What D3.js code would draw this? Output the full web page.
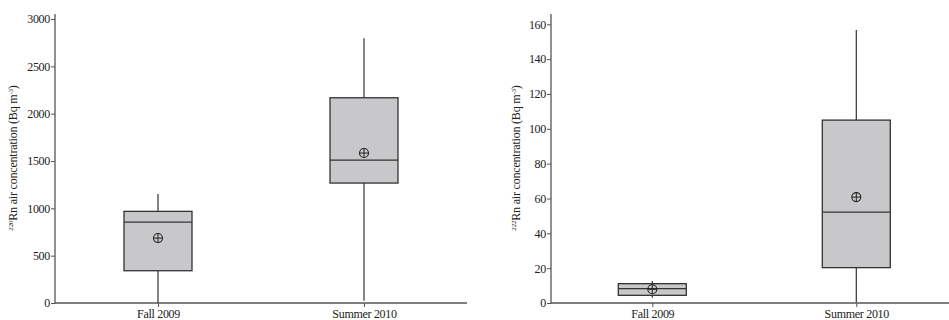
<!DOCTYPE html>
<html><head><meta charset="utf-8">
<script src="https://cdn.jsdelivr.net/npm/d3@7"></script>
<style>
body{margin:0;background:#fff;}
text{font-family:"Liberation Serif","Times New Roman",serif;fill:#222;}
</style></head>
<body><svg id="c" width="949" height="320"></svg>
<script>
const categories = ["Fall 2009", "Summer 2010"];
// Rn-220 (left panel)
const rn220Min    = [0, 25];
const rn220Q1     = [341, 1267];
const rn220Median = [855, 1510];
const rn220Q3     = [968, 2168];
const rn220Max    = [1151, 2797];
const rn220Mean   = [686, 1584];
const rn220Ticks  = [0, 500, 1000, 1500, 2000, 2500, 3000];
// Rn-222 (right panel)
const rn222Min    = [3, 0.5];
const rn222Q1     = [4.4, 20.3];
const rn222Median = [8.2, 52.2];
const rn222Q3     = [11.1, 105];
const rn222Max    = [12.6, 156.7];
const rn222Mean   = [7.9, 60.8];
const rn222Ticks  = [0, 20, 40, 60, 80, 100, 120, 140, 160];

const svg = d3.select("#c");

function panel(cfg){
  const g = svg.append("g");
  const y = d3.scaleLinear().domain(cfg.domain).range([303, cfg.topY]);
  const x = d3.scalePoint().domain(categories).range(cfg.centers);
  g.append("line").attr("x1",cfg.x0).attr("x2",cfg.x0).attr("y1",14).attr("y2",303.5)
    .attr("stroke","#555").attr("stroke-width",1.3);
  g.append("line").attr("x1",cfg.x0).attr("x2",cfg.x1).attr("y1",303).attr("y2",303)
    .attr("stroke","#555").attr("stroke-width",1.3);
  const ya = d3.axisLeft(y).tickValues(cfg.ticks).tickFormat(d3.format("d")).tickSize(4).tickPadding(1);
  const yg = g.append("g").attr("transform",`translate(${cfg.x0},0)`).call(ya);
  yg.select(".domain").remove();
  yg.selectAll(".tick line").attr("stroke","#555");
  yg.selectAll("text").attr("font-size",12).attr("letter-spacing","-0.3px").attr("fill","#222");
  const xa = d3.axisBottom(x).tickSize(4).tickPadding(2);
  const xg = g.append("g").attr("transform",`translate(0,303)`).call(xa);
  xg.select(".domain").remove();
  xg.selectAll(".tick line").attr("stroke","#555");
  xg.selectAll("text").attr("font-size",12).attr("letter-spacing","-0.3px").attr("fill","#222");
  const lab = g.append("text").attr("transform",`translate(${cfg.labX},${cfg.labY}) rotate(-90)`)
    .attr("text-anchor","middle").attr("font-size",12).attr("letter-spacing","-0.2px");
  lab.append("tspan").attr("font-size",7).attr("dy",-4).text(cfg.iso);
  lab.append("tspan").attr("dy",4).text("Rn air concentration (Bq m");
  lab.append("tspan").attr("font-size",7).attr("dy",-4).text("-3");
  lab.append("tspan").attr("dy",4).text(")");
  const bw = 68;
  categories.forEach((c,i)=>{
    const cx = x(c);
    g.append("line").attr("x1",cx).attr("x2",cx).attr("y1",y(cfg.max[i])).attr("y2",y(cfg.min[i]))
      .attr("stroke","#333").attr("stroke-width",1.2);
    g.append("rect").attr("x",cx-bw/2).attr("width",bw)
      .attr("y",y(cfg.q3[i])).attr("height",y(cfg.q1[i])-y(cfg.q3[i]))
      .attr("fill","#c8c8ca").attr("stroke","#333").attr("stroke-width",1.3);
    g.append("line").attr("x1",cx-bw/2).attr("x2",cx+bw/2).attr("y1",y(cfg.med[i])).attr("y2",y(cfg.med[i]))
      .attr("stroke","#333").attr("stroke-width",1.3);
    const my = y(cfg.mean[i]);
    g.append("circle").attr("cx",cx).attr("cy",my).attr("r",4.5).attr("fill","none").attr("stroke","#222").attr("stroke-width",1.1);
    g.append("line").attr("x1",cx-4.5).attr("x2",cx+4.5).attr("y1",my).attr("y2",my).attr("stroke","#222").attr("stroke-width",1);
    g.append("line").attr("x1",cx).attr("x2",cx).attr("y1",my-4.5).attr("y2",my+4.5).attr("stroke","#222").attr("stroke-width",1);
  });
}

panel({domain:[0,3000], topY:19, x0:55, x1:467, centers:[158,364], ticks:rn220Ticks,
  min:rn220Min,q1:rn220Q1,med:rn220Median,q3:rn220Q3,max:rn220Max,mean:rn220Mean,
  labX:17, labY:158, iso:"220"});
panel({domain:[0,160], topY:24.3, x0:551, x1:949, centers:[652.3,856.3], ticks:rn222Ticks,
  min:rn222Min,q1:rn222Q1,med:rn222Median,q3:rn222Q3,max:rn222Max,mean:rn222Mean,
  labX:520, labY:158, iso:"222"});
</script></body></html>
